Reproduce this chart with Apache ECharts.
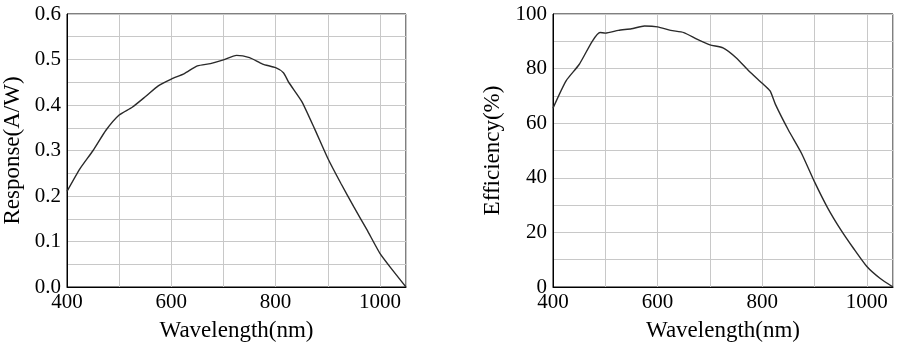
<!DOCTYPE html>
<html>
  <head>
    <meta charset="UTF-8" />
    <title>Response and Efficiency</title>
    <style>
      body { margin: 0; background: #fff; }
      #chart { width: 900px; height: 352px; }
    </style>
    <script src="https://cdn.jsdelivr.net/npm/echarts@6/dist/echarts.min.js"></script>
  </head>
  <body>
    <div id="chart"></div>
    <script>
      // left panel: responsivity
      const respWave = [400, 425, 450, 475, 500, 525, 550, 575, 600, 625, 650, 675, 700, 725, 750, 775, 800, 815, 825, 850, 875, 900, 925, 950, 975, 1000, 1025, 1050];
      const respValue = [0.21, 0.26, 0.30, 0.345, 0.378, 0.395, 0.418, 0.442, 0.457, 0.469, 0.486, 0.491, 0.499, 0.509, 0.504, 0.49, 0.482, 0.471, 0.45, 0.408, 0.347, 0.283, 0.228, 0.176, 0.126, 0.074, 0.036, 0.0];

      // right panel: quantum efficiency
      const effWave = [400, 425, 450, 475, 490, 500, 525, 550, 575, 600, 625, 650, 675, 700, 725, 750, 775, 800, 815, 825, 850, 875, 900, 925, 950, 975, 1000, 1025, 1050];
      const effValue = [65.5, 75.5, 81.5, 90, 93.2, 93, 94, 94.6, 95.6, 95.3, 94, 93.2, 90.8, 88.7, 87.6, 84, 79, 74.6, 71.8, 67, 57.5, 49, 38.5, 29, 21, 14, 7.5, 3.2, 0];

      const xLabels = [400, 600, 800, 1000];

      const chart = echarts.init(document.getElementById("chart"));
      const font = "Liberation Serif";
      const gridColor = "#c8c8c8";

      function xAxis(idx) {
        return {
          type: "value",
          gridIndex: idx,
          min: 400,
          max: 1050,
          interval: 100,
          name: "Wavelength(nm)",
          nameLocation: "middle",
          nameGap: 32,
          nameTextStyle: { fontFamily: font, fontSize: 23, color: "#000" },
          axisLine: { lineStyle: { color: "#000" } },
          axisTick: { show: false },
          axisLabel: {
            fontFamily: font, fontSize: 21, color: "#000", margin: 5,
            showMaxLabel: false,
            formatter: (v) => (xLabels.indexOf(v) >= 0 ? String(v) : "")
          },
          splitLine: { lineStyle: { color: gridColor } }
        };
      }

      const data1 = respWave.map((w, i) => [w, respValue[i]]);
      const data2 = effWave.map((w, i) => [w, effValue[i]]);

      chart.setOption({
        animation: false,
        grid: [
          { left: 67, right: 494, top: 14, bottom: 65, show: true, borderColor: "#000", borderWidth: 1 },
          { left: 553, right: 7, top: 14, bottom: 65, show: true, borderColor: "#000", borderWidth: 1 }
        ],
        xAxis: [xAxis(0), xAxis(1)],
        yAxis: [
          {
            type: "value", gridIndex: 0, min: 0, max: 0.6, interval: 0.05,
            name: "Response(A/W)", nameLocation: "middle", nameGap: 43,
            nameTextStyle: { fontFamily: font, fontSize: 23, color: "#000" },
            axisLine: { show: true, lineStyle: { color: "#000" } },
            axisTick: { show: false },
            axisLabel: {
              fontFamily: font, fontSize: 21, color: "#000", margin: 6,
              formatter: (v) => (Math.round(v * 100) % 10 === 0 ? v.toFixed(1) : "")
            },
            splitLine: { lineStyle: { color: gridColor } }
          },
          {
            type: "value", gridIndex: 1, min: 0, max: 100, interval: 10,
            name: "Efficiency(%)", nameLocation: "middle", nameGap: 49,
            nameTextStyle: { fontFamily: font, fontSize: 23, color: "#000" },
            axisLine: { show: true, lineStyle: { color: "#000" } },
            axisTick: { show: false },
            axisLabel: {
              fontFamily: font, fontSize: 21, color: "#000", margin: 6,
              formatter: (v) => (v % 20 === 0 ? String(v) : "")
            },
            splitLine: { lineStyle: { color: gridColor } }
          }
        ],
        series: [
          {
            type: "line", xAxisIndex: 0, yAxisIndex: 0, data: data1,
            showSymbol: false, smooth: 0.2,
            lineStyle: { color: "#2a2a2a", width: 1.4 }
          },
          {
            type: "line", xAxisIndex: 1, yAxisIndex: 1, data: data2,
            showSymbol: false, smooth: 0.2,
            lineStyle: { color: "#2a2a2a", width: 1.4 }
          }
        ]
      });
    </script>
  </body>
</html>
